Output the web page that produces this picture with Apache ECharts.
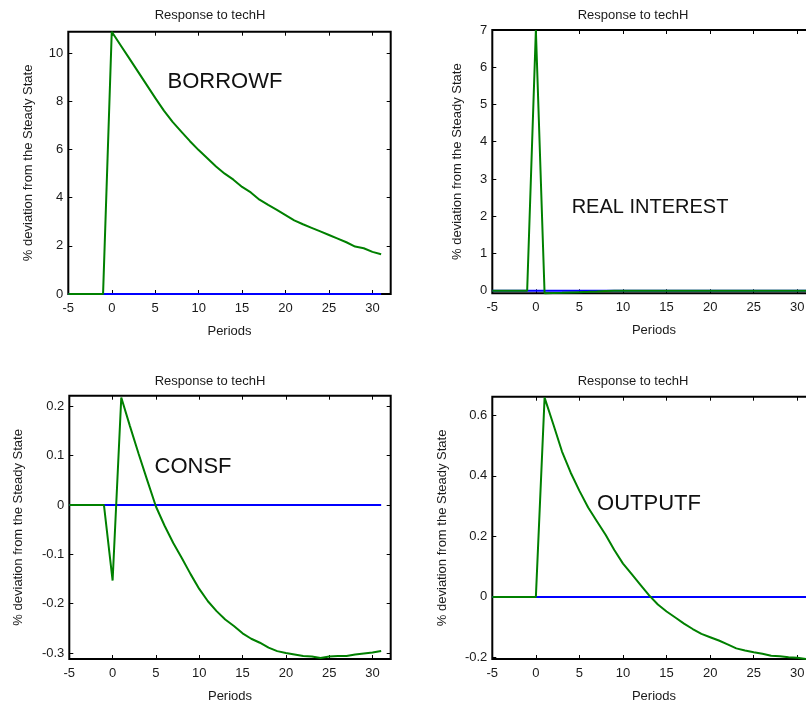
<!DOCTYPE html>
<html>
<head>
<meta charset="utf-8">
<script src="https://cdn.jsdelivr.net/npm/echarts@6/dist/echarts.min.js"></script>
<style>
  html, body { margin: 0; padding: 0; background: #fff; }
  #chart { width: 806px; height: 708px; }
</style>
</head>
<body>
<div id="chart"></div>
<script>
// Impulse responses to a techH shock, periods -5 .. 31
const periods = [-5, -4, -3, -2, -1, 0, 1, 2, 3, 4, 5, 6, 7, 8, 9, 10, 11, 12, 13, 14, 15,
  16, 17, 18, 19, 20, 21, 22, 23, 24, 25, 26, 27, 28, 29, 30, 31];

const borrowf = [0, 0, 0, 0, 0, 10.9, 10.35, 9.8, 9.25, 8.7, 8.15, 7.62, 7.15, 6.75, 6.35, 5.98,
  5.64, 5.3, 5.0, 4.75, 4.45, 4.22, 3.92, 3.7, 3.5, 3.28, 3.06, 2.9, 2.75, 2.6, 2.45, 2.3,
  2.15, 1.97, 1.9, 1.75, 1.65];

const realInterest = [0, 0, 0, 0, 0, 7.0, -0.07, -0.065, -0.057, -0.048, -0.039, -0.03, -0.02,
  -0.006, 0, 0, 0, 0, 0, 0, 0, 0, 0, 0, 0, 0, 0, 0, 0, 0, 0, 0, 0, 0, 0, 0, 0];

const consf = [0, 0, 0, 0, 0, -0.153, 0.218, 0.16, 0.104, 0.05, -0.003, -0.042, -0.077, -0.108,
  -0.14, -0.17, -0.195, -0.215, -0.232, -0.245, -0.26, -0.271, -0.279, -0.289, -0.296, -0.3,
  -0.303, -0.306, -0.307, -0.31, -0.307, -0.306, -0.306, -0.303, -0.301, -0.299, -0.296];

const outputf = [0, 0, 0, 0, 0, 0, 0.658, 0.57, 0.48, 0.41, 0.35, 0.295, 0.25, 0.205, 0.155,
  0.11, 0.075, 0.04, 0.005, -0.025, -0.048, -0.068, -0.088, -0.106, -0.122, -0.133, -0.144,
  -0.157, -0.17, -0.177, -0.183, -0.188, -0.194, -0.196, -0.199, -0.201, -0.205];

// steady state reference line
const steadyState = [0, 0, 0, 0, 0, 0, 0, 0, 0, 0, 0, 0, 0, 0, 0, 0, 0, 0, 0, 0, 0, 0, 0, 0, 0,
  0, 0, 0, 0, 0, 0, 0, 0, 0, 0, 0, 0];

const xTicks = [-5, 0, 5, 10, 15, 20, 25, 30];
const borrowfTicks = [0, 2, 4, 6, 8, 10];
const realInterestTicks = [0, 1, 2, 3, 4, 5, 6, 7];
const consfTicks = [-0.3, -0.2, -0.1, 0, 0.1, 0.2];
const outputfTicks = [-0.2, 0, 0.2, 0.4, 0.6];

const panelTitle = 'Response to techH';
const yName = '% deviation from the Steady State';
const xName = 'Periods';

const panels = [
  { label: 'BORROWF', values: borrowf, ticks: borrowfTicks, yMin: 0, yMax: 10.9,
    box: { left: 68.3, top: 31.7, width: 322.4, height: 262.3 },
    title: [210, 8.5], labelPos: [225, 82], yGap: 33, labelSize: 22 },
  { label: 'REAL INTEREST', values: realInterest, ticks: realInterestTicks, yMin: -0.07, yMax: 7,
    box: { left: 492.3, top: 30, width: 323.3, height: 263.3 },
    title: [633, 8.5], labelPos: [650, 207], yGap: 28, labelSize: 20 },
  { label: 'CONSF', values: consf, ticks: consfTicks, yMin: -0.312, yMax: 0.2216,
    box: { left: 69.3, top: 395.7, width: 321.4, height: 263.3 },
    title: [210, 374.5], labelPos: [193, 467], yGap: 44, labelSize: 22 },
  { label: 'OUTPUTF', values: outputf, ticks: outputfTicks, yMin: -0.205, yMax: 0.661,
    box: { left: 492.3, top: 396.7, width: 323.3, height: 262.3 },
    title: [633, 374.5], labelPos: [649, 504], yGap: 43, labelSize: 22 }
];

const FONT = 'Liberation Sans, Arial, Helvetica, sans-serif';
const TEXT = '#1a1a1a';
const GREEN = '#008000';
const BLUE = '#0000ff';

function pairs(values) {
  return periods.map((p, i) => [p, values[i]]);
}

const option = {
  backgroundColor: '#ffffff',
  animation: false,
  textStyle: { fontFamily: FONT },
  title: [], grid: [], xAxis: [], yAxis: [], series: [], graphic: []
};

panels.forEach((pn, i) => {
  option.title.push({
    text: panelTitle, left: pn.title[0], top: pn.title[1], textAlign: 'center', padding: 0,
    textStyle: { fontFamily: FONT, fontSize: 13, fontWeight: 'normal', color: TEXT }
  });
  option.grid.push({
    left: pn.box.left, top: pn.box.top, width: pn.box.width, height: pn.box.height,
    show: true, borderColor: '#000', borderWidth: 2, backgroundColor: 'transparent',
    containLabel: false, outerBoundsMode: 'none'
  });
  const tick = { show: true, inside: true, length: 4, lineStyle: { color: '#000', width: 1 } };
  const noLine = { show: false, onZero: false };
  // bottom x axis with labels
  option.xAxis.push({
    type: 'value', gridIndex: i, position: 'bottom', min: -5, max: 32.1,
    axisLine: noLine, splitLine: { show: false },
    axisTick: Object.assign({ customValues: xTicks }, tick),
    axisLabel: { customValues: xTicks, color: TEXT, fontSize: 13, fontFamily: FONT, margin: 8 },
    name: xName, nameLocation: 'middle', nameGap: 31,
    nameTextStyle: { color: TEXT, fontSize: 13, fontFamily: FONT }
  });
  // top x axis mirrors the ticks
  option.xAxis.push({
    type: 'value', gridIndex: i, position: 'top', min: -5, max: 32.1,
    axisLine: noLine, splitLine: { show: false },
    axisTick: Object.assign({ customValues: xTicks }, tick),
    axisLabel: { show: false }
  });
  option.yAxis.push({
    type: 'value', gridIndex: i, position: 'left', min: pn.yMin, max: pn.yMax,
    axisLine: noLine, splitLine: { show: false },
    axisTick: Object.assign({ customValues: pn.ticks }, tick),
    axisLabel: { customValues: pn.ticks, color: TEXT, fontSize: 13, fontFamily: FONT, margin: 5 },
    name: yName, nameLocation: 'middle', nameGap: pn.yGap, nameRotate: 90,
    nameTextStyle: { color: TEXT, fontSize: 13, fontFamily: FONT }
  });
  option.yAxis.push({
    type: 'value', gridIndex: i, position: 'right', min: pn.yMin, max: pn.yMax,
    axisLine: noLine, splitLine: { show: false },
    axisTick: Object.assign({ customValues: pn.ticks }, tick),
    axisLabel: { show: false }
  });
  option.series.push({
    type: 'line', xAxisIndex: 2 * i, yAxisIndex: 2 * i, data: pairs(steadyState),
    showSymbol: false, clip: false, lineStyle: { color: BLUE, width: 2 }, z: 3
  });
  option.series.push({
    type: 'line', xAxisIndex: 2 * i, yAxisIndex: 2 * i, data: pairs(pn.values),
    showSymbol: false, clip: false, lineStyle: { color: GREEN, width: 2 }, z: 4
  });
  option.graphic.push({
    type: 'text', x: pn.labelPos[0], y: pn.labelPos[1], z: 10,
    style: {
      text: pn.label, fill: '#111', font: pn.labelSize + 'px ' + FONT,
      align: 'center', verticalAlign: 'middle'
    }
  });
});

const chart = echarts.init(document.getElementById('chart'), null, { renderer: 'canvas' });
chart.setOption(option);
</script>
</body>
</html>
